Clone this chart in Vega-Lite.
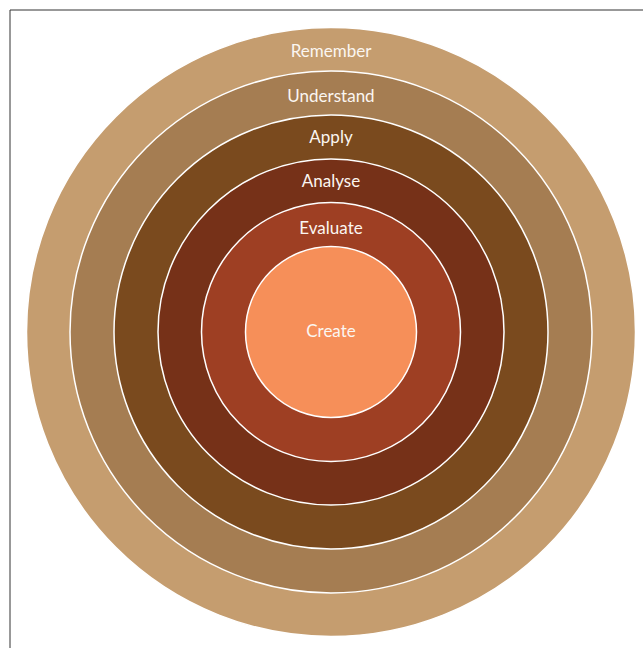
{
  "$schema": "https://vega.github.io/schema/vega-lite/v6.json",
  "autosize": "none",
  "width": 642,
  "height": 644,
  "padding": {"left": 10, "top": 10, "right": 0, "bottom": 0},
  "background": "white",
  "data": {
    "values": [
      {"level": "Remember", "r": 304.5, "labelR": 280.5},
      {"level": "Understand", "r": 261, "labelR": 235},
      {"level": "Apply", "r": 217, "labelR": 194},
      {"level": "Analyse", "r": 173, "labelR": 150},
      {"level": "Evaluate", "r": 129.5, "labelR": 103},
      {"level": "Create", "r": 85.5, "labelR": 0}
    ]
  },
  "layer": [
    {
      "data": {"values": [{"frame": 1}]},
      "mark": {"type": "rect", "fill": null, "stroke": "#333333", "strokeWidth": 1},
      "encoding": {}
    },
    {
      "mark": {"type": "arc", "theta": 0, "theta2": 6.2832, "stroke": "white", "strokeWidth": 1.5},
      "encoding": {
        "radius": {"field": "r", "type": "quantitative", "stack": null, "scale": {"type": "linear", "domain": [0, 304.5], "range": [0, 304.5], "zero": true}},
        "color": {
          "field": "level",
          "type": "nominal",
          "scale": {
            "domain": ["Remember", "Understand", "Apply", "Analyse", "Evaluate", "Create"],
            "range": ["#C59D6F", "#A57D52", "#7A4A1E", "#763118", "#9E3F23", "#F68F59"]
          },
          "legend": null
        },
        "order": {"field": "r", "type": "quantitative", "sort": "descending"}
      }
    },
    {
      "mark": {"type": "text", "theta": 0, "font": "Lato", "fontSize": 17, "color": "#FBF6F1", "baseline": "middle", "align": "center"},
      "encoding": {
        "radius": {"field": "labelR", "type": "quantitative", "stack": null, "scale": {"type": "linear", "domain": [0, 304.5], "range": [0, 304.5], "zero": true}},
        "text": {"field": "level", "type": "nominal"}
      }
    }
  ]
}
